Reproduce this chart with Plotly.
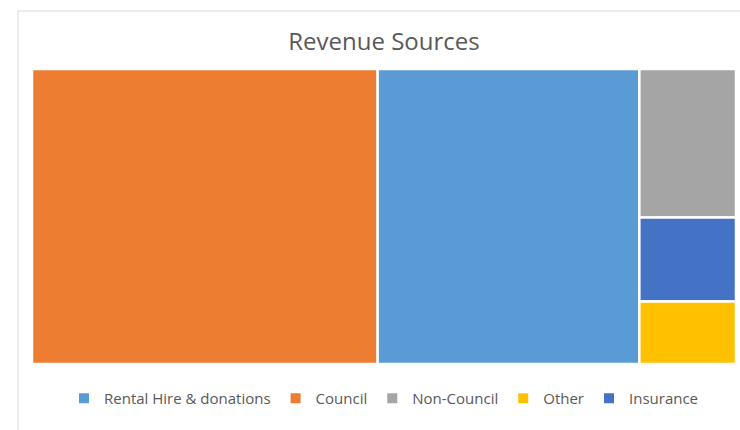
import plotly.graph_objects as go

labels = ["Council", "Rental Hire & donations", "Non-Council", "Insurance", "Other"]
values = [49.0, 37.1, 6.9, 3.9, 2.9]
colors = {
    "Rental Hire & donations": "#5B9BD5",
    "Council": "#ED7D31",
    "Non-Council": "#A5A5A5",
    "Other": "#FFC000",
    "Insurance": "#4472C4",
}
legend_order = ["Rental Hire & donations", "Council", "Non-Council", "Other", "Insurance"]

fig = go.Figure()
fig.add_trace(go.Treemap(
    labels=labels,
    parents=[""] * len(labels),
    values=values,
    marker=dict(colors=[colors[l] for l in labels], line=dict(color="white", width=2.5),
                pad=dict(t=0, l=0, r=0, b=0)),
    textinfo="none",
    hoverinfo="label+value",
    sort=True,
    tiling=dict(packing="squarify", squarifyratio=1, pad=0),
    pathbar=dict(visible=False),
    domain=dict(x=[0, 1], y=[0, 1]),
))

for name in legend_order:
    fig.add_trace(go.Scatter(
        x=[None], y=[None], mode="markers", name=name,
        marker=dict(symbol="square", size=10, color=colors[name]),
        showlegend=True,
    ))

fig.update_layout(
    width=740, height=430,
    margin=dict(l=32, r=4, t=69, b=66),
    paper_bgcolor="white", plot_bgcolor="white",
    font=dict(family="'Open Sans', sans-serif", color="#595959"),
    title=dict(text="Revenue Sources", x=0.5, xref="paper", xanchor="center",
               y=1 - 42 / 430, yanchor="middle",
               font=dict(size=24, color="#595959")),
    xaxis=dict(visible=False), yaxis=dict(visible=False),
    showlegend=True,
    legend=dict(orientation="h", x=0.5, xanchor="center", xref="paper",
                y=-34.5 / 295, yanchor="middle", font=dict(size=15, color="#595959"),
                itemclick=False, itemdoubleclick=False, tracegroupgap=0),
    shapes=[
        dict(type="line", xref="paper", yref="paper", x0=-14 / 704, x1=1.1, y0=(364 - 11) / 295, y1=(364 - 11) / 295,
             line=dict(color="#D9D9D9", width=1)),
        dict(type="line", xref="paper", yref="paper", x0=-14 / 704, x1=-14 / 704, y0=(364 - 11) / 295, y1=-1,
             line=dict(color="#D9D9D9", width=1)),
    ],
)

fig.write_html(
    "out.html",
    config={"displayModeBar": False},
    post_script="document.body.style.margin='0';document.body.style.overflow='hidden';",
)
